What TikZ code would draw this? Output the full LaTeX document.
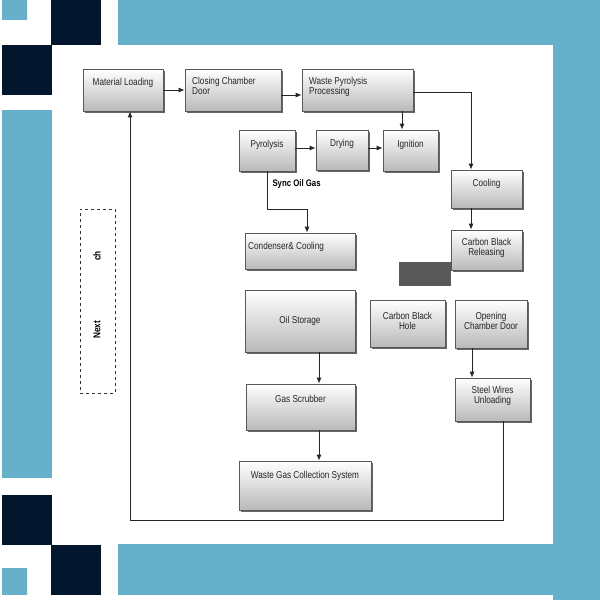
\documentclass[tikz,border=0pt]{standalone}
\usepackage{fontspec}
\setmainfont[FakeStretch=0.82]{Liberation Sans}
\usetikzlibrary{shadows,arrows.meta}
\definecolor{bblue}{HTML}{66B0CC}
\definecolor{navy}{HTML}{02162E}
\begin{document}
\begin{tikzpicture}[x=1pt,y=-1pt,
  box/.style={draw=gray!70!black,line width=0.6pt,rectangle,top color=white,bottom color=gray!55,
    drop shadow={shadow xshift=1.5pt,shadow yshift=-2pt,fill=gray!80!black,opacity=1}},
  lbl/.style={font=\fontsize{10}{10.5}\selectfont,align=center,text=black!85},
  lbll/.style={font=\fontsize{10}{10.5}\selectfont,align=left,text=black!85},
  arr/.style={-{Latex[length=6pt,width=5pt]},line width=1pt,draw=black!85},
  ln/.style={line width=1pt,draw=black!80}]
\useasboundingbox (0,0) rectangle (600,600);
% background
\fill[white] (0,0) rectangle (600,600);
\fill[bblue] (118,0) rectangle (600,45);
\fill[bblue] (553,0) rectangle (600,600);
\fill[bblue] (118,544) rectangle (600,595);
\fill[bblue] (2,0) rectangle (27,20);
\fill[bblue] (2,110) rectangle (52,478);
\fill[bblue] (2,568) rectangle (27,595);
\fill[navy] (51,0) rectangle (101,45);
\fill[navy] (2,45) rectangle (52,95);
\fill[navy] (2,495) rectangle (52,545);
\fill[navy] (51,545) rectangle (101,595);
\fill[white] (52,45) rectangle (553,544);
% nodes
\node[box,minimum width=80,minimum height=42,label={[lbl,anchor=north,yshift=-6]north:Material Loading}] (ml) at (123,90) {};
\node[box,minimum width=96,minimum height=42,label={[lbll,anchor=north west,xshift=4,yshift=-5]north west:Closing Chamber\\Door}] (ccd) at (233,90) {};
\node[box,minimum width=111,minimum height=42,label={[lbll,anchor=north west,xshift=4,yshift=-5]north west:Waste Pyrolysis\\Processing}] (wpp) at (357.5,90) {};
\node[box,minimum width=56,minimum height=41,label={[lbl,anchor=north,yshift=-7]north:Pyrolysis}] (pyr) at (267,150.5) {};
\node[box,minimum width=52,minimum height=40,label={[lbl,anchor=north,yshift=-6]north:Drying}] (dry) at (342,150) {};
\node[box,minimum width=55,minimum height=41,label={[lbl,anchor=north,yshift=-7]north:Ignition}] (ign) at (410.5,150.5) {};
\node[box,minimum width=71,minimum height=38,label={[lbl,anchor=north,yshift=-6]north:Cooling}] (cool) at (486.5,189) {};
\node[box,minimum width=71,minimum height=40,label={[lbl,anchor=north,yshift=-5]north:Carbon Black\\Releasing}] (cbr) at (486.5,250) {};
\node[box,minimum width=110,minimum height=36,label={[lbll,anchor=north west,xshift=0,yshift=-6]north west:Condenser\& Cooling}] (cond) at (300,251) {};
\node[box,minimum width=110,minimum height=62,label={[lbl,anchor=north,yshift=-23]north:Oil Storage}] (oil) at (300,321) {};
\fill[black!65] (399,262) rectangle (451,286);
\node[box,minimum width=75,minimum height=47,label={[lbl,anchor=north,yshift=-9]north:Carbon Black\\Hole}] (cbh) at (407.5,323.5) {};
\node[box,minimum width=72,minimum height=48,label={[lbl,anchor=north,yshift=-9]north:Opening\\Chamber Door}] (ocd) at (491,324) {};
\node[box,minimum width=109,minimum height=46,label={[lbl,anchor=north,yshift=-8]north:Gas Scrubber}] (gs) at (300.5,407) {};
\node[box,minimum width=75,minimum height=43,label={[lbl,anchor=north,yshift=-5]north:Steel Wires\\Unloading}] (swu) at (492.5,399.5) {};
\node[box,minimum width=132,minimum height=49,label={[lbl,anchor=north,yshift=-7]north:Waste Gas Collection System}] (wgcs) at (305,485.5) {};
% dashed box
\node[draw=black!80,dashed,line width=0.8pt,minimum width=35,minimum height=184] (nb) at (97.5,301) {};
\node[rotate=90,font=\bfseries\fontsize{10}{10}\selectfont] (nx) at (97,330) {Next};
\node[rotate=90,font=\bfseries\fontsize{10}{10}\selectfont] (ch) at (97,256) {ch};
% label
\node[font=\bfseries\fontsize{9.5}{10}\selectfont,anchor=west] (sog) at (269,184) {Sync Oil Gas};
% connectors
\draw[arr] (ml.east |- 0,90) -- (ccd.west |- 0,90);
\draw[arr] (ccd.east |- 0,95) -- (wpp.west |- 0,95);
\draw[arr] (wpp.east |- 0,92) -| (cool.north -| 471,0);
\draw[arr] (wpp.south -| 402,0) -- (ign.north -| 402,0);
\draw[arr] (pyr.east |- 0,148) -- (dry.west |- 0,148);
\draw[arr] (dry.east |- 0,148) -- (ign.west |- 0,148);
\draw[arr] (pyr.south) -- (267,209) -| (cond.north -| 307,0);
\draw[arr] (cool.south -| 471,0) -- (cbr.north -| 471,0);
\draw[arr] (oil.south -| 319,0) -- (gs.north -| 319,0);
\draw[arr] (gs.south -| 319,0) -- (wgcs.north -| 319,0);
\draw[arr] (ocd.south -| 472,0) -- (swu.north -| 472,0);
\draw[arr] (swu.south -| 503,0) -- (503,520) -- (130,520) -- (ml.south -| 130,0);
\end{tikzpicture}
\end{document}
